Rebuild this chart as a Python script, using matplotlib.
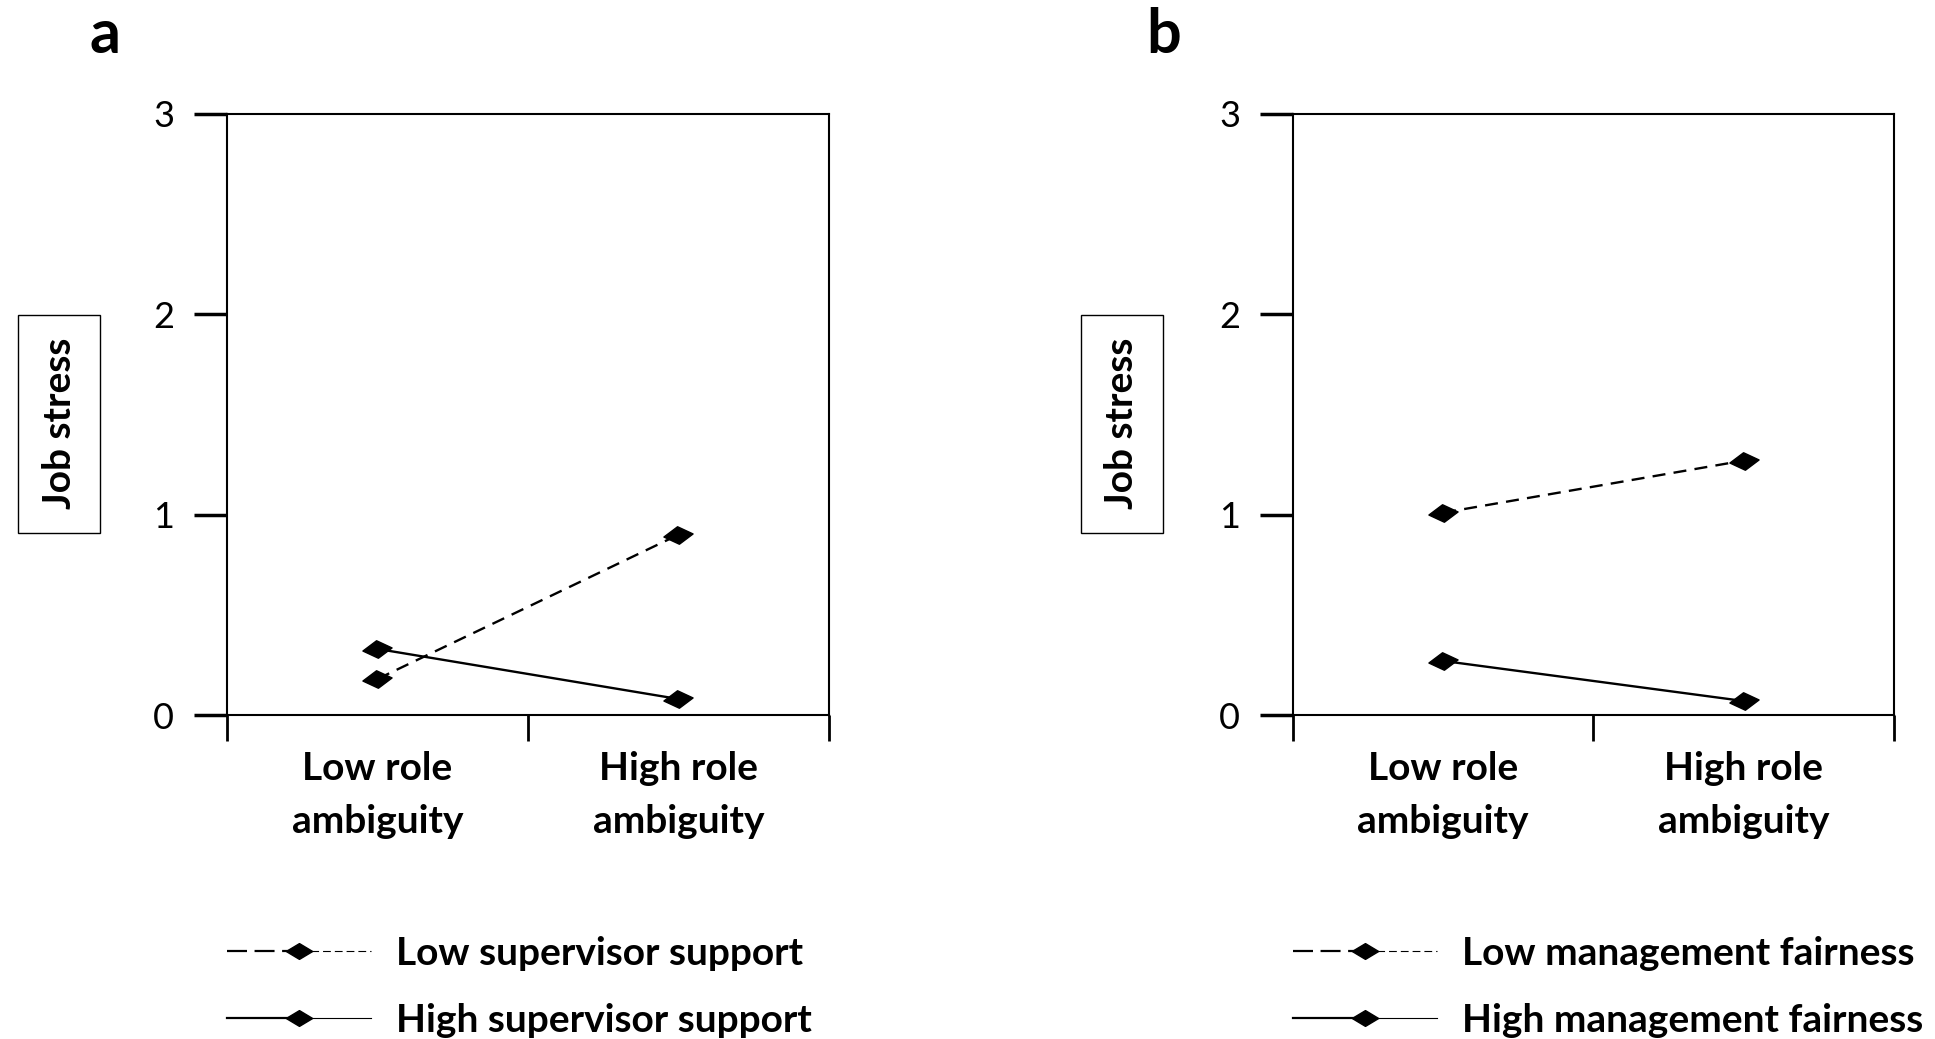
import matplotlib
matplotlib.use('Agg')
import matplotlib.pyplot as plt
from matplotlib.path import Path
from matplotlib.lines import Line2D
from matplotlib.legend_handler import HandlerBase
import numpy as np

plt.rcParams['font.family'] = ['Lato', 'DejaVu Sans']

# data
categories = ['Low role\nambiguity', 'High role\nambiguity']
y_ticks = [0, 1, 2, 3]

support_labels = ['Low supervisor support', 'High supervisor support']
low_support = [0.18, 0.90]
high_support = [0.33, 0.08]

fairness_labels = ['Low management fairness', 'High management fairness']
low_fairness = [1.01, 1.27]
high_fairness = [0.27, 0.07]

# flattened, slightly tilted diamond marker
ang = np.deg2rad(6)
base = np.array([[-1, 0], [0, 0.6], [1, 0], [0, -0.6], [-1, 0]])
rot = np.array([[np.cos(ang), -np.sin(ang)], [np.sin(ang), np.cos(ang)]])
codes = [Path.MOVETO, Path.LINETO, Path.LINETO, Path.LINETO, Path.CLOSEPOLY]
diamond = Path(base @ rot.T, codes)
flat_diamond = Path(base, codes)


class SplitHandler(HandlerBase):
    """legend sample: thick line left of the marker, thin line right of it"""

    def __init__(self, dashed):
        super().__init__()
        self.dashed = dashed

    def create_artists(self, legend, orig_handle, xdescent, ydescent,
                       width, height, fontsize, trans):
        y = (height - ydescent) / 2
        x0 = -xdescent
        xm = x0 + width / 2
        x1 = x0 + width
        left = Line2D([x0, xm], [y, y], color='black', lw=1.6)
        right = Line2D([xm, x1], [y, y], color='black', lw=0.8)
        if self.dashed:
            left.set_dashes((9, 3.4))
            right.set_dashes((7, 3.6))
        mk = Line2D([xm], [y], marker=flat_diamond, ms=19, color='black', ls='none')
        for a in (left, right, mk):
            a.set_transform(trans)
        return [left, right, mk]


fig = plt.figure(figsize=(19.35, 10.39), dpi=100)
ax_a = fig.add_axes([0.1173, 0.3118, 0.3111, 0.5785])
ax_b = fig.add_axes([0.6682, 0.3118, 0.3106, 0.5785])


def draw_panel(ax, low, high, labels, label_x):
    x = np.arange(len(categories)) + 0.5
    ax.plot(x, low, color='black', lw=1.7, dashes=(5.5, 3.5), marker=diamond, ms=21)
    ax.plot(x, high, color='black', lw=1.7, marker=diamond, ms=21)

    ax.set_xlim(0, 2)
    ax.set_ylim(0, 3)
    ax.set_xticks([0, 1, 2])
    ax.set_xticklabels([])
    ax.set_xticks(x, minor=True)
    ax.set_xticklabels(categories, minor=True, fontweight='bold', fontsize=28)
    for t in ax.get_xticklabels(minor=True):
        t.set_linespacing(1.6)
    ax.tick_params(axis='x', which='major', direction='out', length=19, width=2)
    ax.tick_params(axis='x', which='minor', length=0, pad=26)
    ax.set_yticks(y_ticks)
    ax.tick_params(axis='y', direction='out', length=24, width=2.5, labelsize=26, pad=14)
    for s in ax.spines.values():
        s.set_linewidth(1.5)

    ax.set_ylabel('Job stress', fontsize=28, fontweight='bold', va='center',
                  bbox=dict(boxstyle='square,pad=0.6', fc='white', ec='black', lw=1))
    ax.yaxis.set_label_coords(label_x, 0.485)

    dashed_h = Line2D([], [])
    solid_h = Line2D([], [])
    ax.legend([dashed_h, solid_h], labels, loc='upper left', bbox_to_anchor=(0, -0.367),
              frameon=False, borderaxespad=0, borderpad=0,
              handler_map={dashed_h: SplitHandler(True), solid_h: SplitHandler(False)},
              handlelength=3.7, handletextpad=0.64, labelspacing=0.83,
              prop={'weight': 'bold', 'size': 28})


draw_panel(ax_a, low_support, high_support, support_labels, -0.279)
draw_panel(ax_b, low_fairness, high_fairness, fairness_labels, -0.2845)

fig.text(105 / 1935, 1 - 53 / 1039, 'a', ha='center', va='baseline', fontsize=44, fontweight='bold')
fig.text(1164 / 1935, 1 - 53 / 1039, 'b', ha='center', va='baseline', fontsize=44, fontweight='bold')

fig.savefig('out.png', dpi=100, facecolor='white')
